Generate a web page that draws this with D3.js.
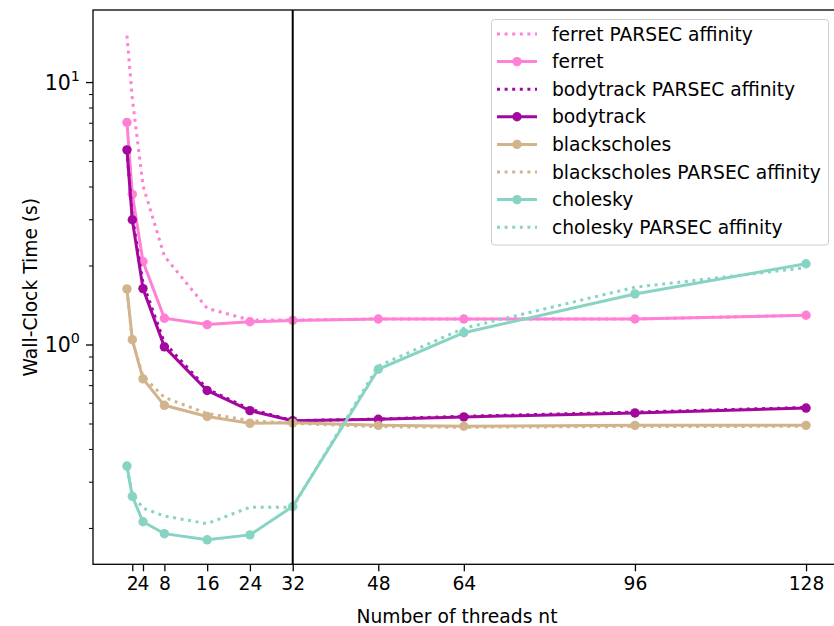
<!DOCTYPE html>
<style>body { margin: 0; } svg { display: block; }</style>
<svg width="834" height="626"></svg>
<script src="https://d3js.org/d3.v7.min.js"></script>
<script>

var threads = [1, 2, 4, 8, 16, 24, 32, 48, 64, 96, 128],
    xTicks = [2, 4, 8, 16, 24, 32, 48, 64, 96, 128],
    yTicks = [1, 10];

// wall-clock times in seconds, one value per entry of threads
var ferretAffinity      = [15.1, 8.7, 4.05, 2.18, 1.38, 1.245, 1.245, 1.256, 1.256, 1.256, 1.298],
    ferret              = [7.05, 3.75, 2.08, 1.265, 1.196, 1.226, 1.241, 1.256, 1.256, 1.256, 1.298],
    bodytrackAffinity   = [5.5, 3.1, 1.72, 1.02, 0.68, 0.57, 0.515, 0.522, 0.535, 0.555, 0.578],
    bodytrack           = [5.54, 3.0, 1.64, 0.984, 0.671, 0.562, 0.515, 0.521, 0.532, 0.551, 0.575],
    blackscholes        = [1.636, 1.048, 0.743, 0.589, 0.534, 0.503, 0.505, 0.494, 0.49, 0.494, 0.494],
    blackscholesAffinity = [1.62, 1.04, 0.76, 0.631, 0.548, 0.515, 0.503, 0.488, 0.486, 0.489, 0.49],
    cholesky            = [0.3457, 0.265, 0.212, 0.191, 0.181, 0.189, 0.2425, 0.808, 1.114, 1.565, 2.04],
    choleskyAffinity    = [0.34, 0.27, 0.239, 0.223, 0.2085, 0.241, 0.241, 0.832, 1.158, 1.66, 1.97];

var series = [
  {name: "ferret PARSEC affinity", values: ferretAffinity, color: "#ff80d5", dotted: true},
  {name: "ferret", values: ferret, color: "#ff80d5", dotted: false},
  {name: "bodytrack PARSEC affinity", values: bodytrackAffinity, color: "#a3089e", dotted: true},
  {name: "bodytrack", values: bodytrack, color: "#a3089e", dotted: false},
  {name: "blackscholes", values: blackscholes, color: "#d2b48c", dotted: false},
  {name: "blackscholes PARSEC affinity", values: blackscholesAffinity, color: "#d2b48c", dotted: true},
  {name: "cholesky", values: cholesky, color: "#88d4c4", dotted: false},
  {name: "cholesky PARSEC affinity", values: choleskyAffinity, color: "#88d4c4", dotted: true}
];

var svg = d3.select("svg"),
    font = "DejaVu Sans, sans-serif",
    fs = 18.7,
    lw = 3,
    dots = "3,4.6",
    x0 = 93, y0 = 10, x1 = 840, y1 = 564.3;

var x = d3.scaleLinear().domain([-5.35, 134.35]).range([x0, x1]),
    y = d3.scaleLog().domain([0.146, 18.9]).range([y1, y0]);

svg.append("rect").attr("width", 834).attr("height", 626).attr("fill", "white");

var line = d3.line()
    .x(function(d, i) { return x(threads[i]); })
    .y(function(d) { return y(d); });

var plot = svg.append("g");

series.forEach(function(s) {
  plot.append("path")
      .attr("d", line(s.values))
      .attr("fill", "none")
      .attr("stroke", s.color)
      .attr("stroke-width", lw)
      .attr("stroke-dasharray", s.dotted ? dots : null);
  if (!s.dotted) {
    plot.selectAll(null)
      .data(s.values)
      .enter().append("circle")
        .attr("cx", function(d, i) { return x(threads[i]); })
        .attr("cy", function(d) { return y(d); })
        .attr("r", 4.7)
        .attr("fill", s.color);
  }
});

// vertical marker at 32 threads
svg.append("line")
    .attr("x1", x(32)).attr("x2", x(32))
    .attr("y1", y0).attr("y2", y1)
    .attr("stroke", "black")
    .attr("stroke-width", 2);

// frame
svg.append("rect")
    .attr("x", x0).attr("y", y0)
    .attr("width", x1 - x0).attr("height", y1 - y0)
    .attr("fill", "none")
    .attr("stroke", "black")
    .attr("stroke-width", 1.3);

// x axis
var xAxis = svg.append("g")
    .attr("transform", "translate(0," + y1 + ")")
    .call(d3.axisBottom(x).tickValues(xTicks).tickSize(7).tickPadding(5).tickFormat(d3.format("d")));
xAxis.select(".domain").remove();
xAxis.selectAll("line").attr("stroke-width", 1.3);
xAxis.selectAll("text").attr("font-family", font).attr("font-size", fs).attr("fill", "black");

// y axis, major and minor ticks
var minor = [];
[0.1, 1, 10].forEach(function(p) {
  for (var k = 2; k <= 9; k++) {
    var v = k * p;
    if (v > 0.146 && v < 18.9) minor.push(v);
  }
});

var yg = svg.append("g");
yg.selectAll(".minor")
  .data(minor)
  .enter().append("line")
    .attr("x1", x0 - 4).attr("x2", x0)
    .attr("y1", function(d) { return y(d); })
    .attr("y2", function(d) { return y(d); })
    .attr("stroke", "black")
    .attr("stroke-width", 1);
yg.selectAll(".major")
  .data(yTicks)
  .enter().append("line")
    .attr("x1", x0 - 7).attr("x2", x0)
    .attr("y1", function(d) { return y(d); })
    .attr("y2", function(d) { return y(d); })
    .attr("stroke", "black")
    .attr("stroke-width", 1.3);

var yl = yg.selectAll(".label")
  .data(yTicks)
  .enter().append("text")
    .attr("x", x0 - 13)
    .attr("y", function(d) { return y(d) + 7.5; })
    .attr("text-anchor", "end")
    .attr("font-family", font)
    .attr("font-size", 20.5);
yl.append("tspan").text("10");
yl.append("tspan")
    .attr("dy", -9)
    .attr("font-size", 20.5 * 0.7)
    .text(function(d) { return Math.round(Math.log10(d)); });

// axis titles
svg.append("text")
    .attr("x", 457)
    .attr("y", 623)
    .attr("text-anchor", "middle")
    .attr("font-family", font)
    .attr("font-size", fs)
    .text("Number of threads nt");

svg.append("text")
    .attr("transform", "translate(30," + ((y0 + y1) / 2) + ") rotate(-90)")
    .attr("text-anchor", "middle")
    .attr("dominant-baseline", "central")
    .attr("font-family", font)
    .attr("font-size", fs)
    .text("Wall-Clock Time (s)");

// legend
var legend = svg.append("g");
legend.append("rect")
    .attr("x", 491.5).attr("y", 19.5)
    .attr("width", 337).attr("height", 225.5)
    .attr("rx", 3)
    .attr("fill", "white")
    .attr("fill-opacity", 0.8)
    .attr("stroke", "#cccccc")
    .attr("stroke-width", 1);

var item = legend.selectAll(".item")
  .data(series)
  .enter().append("g")
    .attr("transform", function(d, i) { return "translate(0," + (34 + i * 27.6) + ")"; });

item.append("line")
    .attr("x1", 497).attr("x2", 537)
    .attr("stroke", function(d) { return d.color; })
    .attr("stroke-width", lw)
    .attr("stroke-dasharray", function(d) { return d.dotted ? dots : null; });
item.filter(function(d) { return !d.dotted; }).append("circle")
    .attr("cx", 517)
    .attr("r", 4.7)
    .attr("fill", function(d) { return d.color; });
item.append("text")
    .attr("x", 552)
    .attr("dy", "0.35em")
    .attr("font-family", font)
    .attr("font-size", fs)
    .text(function(d) { return d.name; });

</script>
